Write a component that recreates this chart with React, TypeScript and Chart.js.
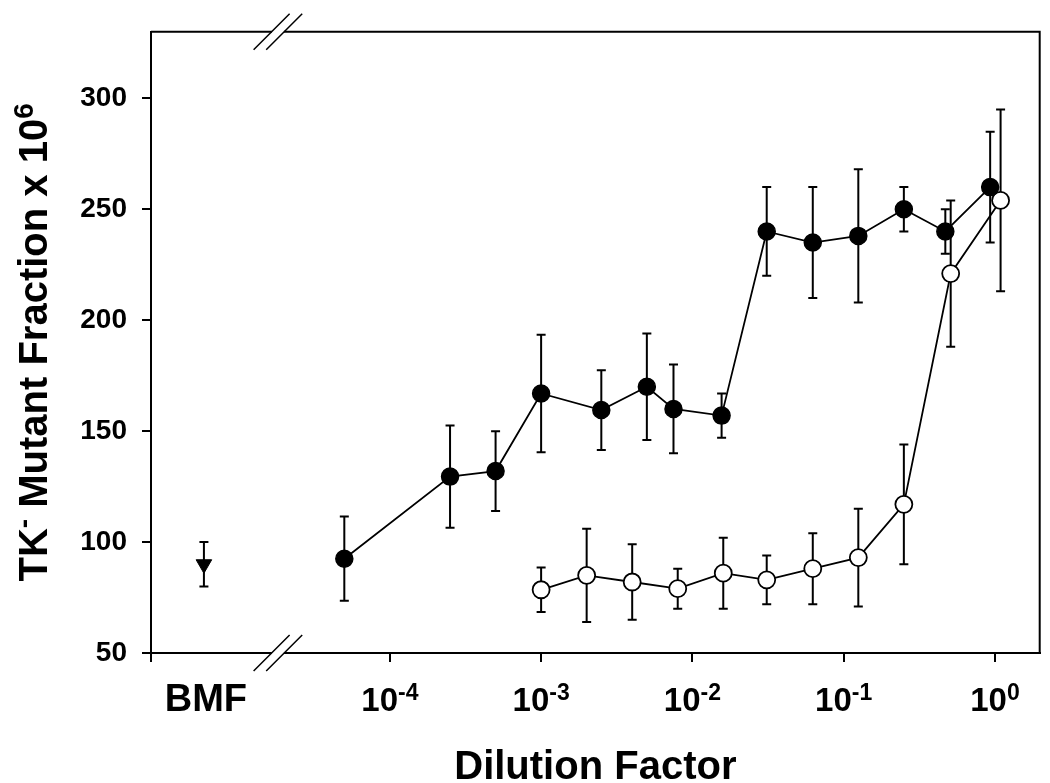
import React, { useEffect, useRef } from "react";
import { Chart, registerables } from "chart.js";

Chart.register(...registerables);

const FONT = '"Liberation Sans", Arial, Helvetica, sans-serif';

// Filled circles series
const filledX = [5e-5, 2.5e-4, 5e-4, 1e-3, 2.5e-3, 5e-3, 7.5e-3, 1.56e-2, 3.1e-2, 6.25e-2, 0.125, 0.25, 0.47, 0.93];
const filledY = [92.5, 129.5, 132, 167, 159.5, 170, 160, 157, 240, 235, 238, 250, 240, 260];
const filledErr = [19, 23, 18, 26.5, 18, 24, 20, 10, 20, 25, 30, 10, 10, 25];

// Open circles series
const openX = [1e-3, 2e-3, 4e-3, 8e-3, 1.6e-2, 3.1e-2, 6.25e-2, 0.125, 0.25, 0.51, 1.09];
const openY = [78.5, 85, 82, 79, 86, 83, 88, 93, 117, 221, 254];
const openErr = [10, 21, 17, 9, 16, 11, 16, 22, 27, 33, 41];

// BMF (background mutant fraction) point
const bmfX = [5.9e-6];
const bmfY = [90];
const bmfErr = [10];

const xTickValues = [1e-4, 1e-3, 1e-2, 1e-1, 1];
const xTickExponents = ["-4", "-3", "-2", "-1", "0"];
const xCategoryLabel = "BMF";
const yTickValues = [50, 100, 150, 200, 250, 300];

const X_MIN = Math.pow(10, -5.579);
const X_MAX = Math.pow(10, 0.296);
const Y_MIN = 50;
const Y_MAX = 330;
const BREAK_AT = Math.pow(10, -4.74);

const errorBarPlugin = {
  id: "errorBars",
  beforeDatasetsDraw(chart: any) {
    const ctx = chart.ctx;
    const xs = chart.scales.x;
    const ys = chart.scales.y;
    chart.data.datasets.forEach((ds: any) => {
      const errs = ds.errors;
      if (!errs) return;
      ctx.save();
      ctx.strokeStyle = "#000";
      ctx.lineWidth = 2;
      ds.data.forEach((p: any, j: number) => {
        const px = xs.getPixelForValue(p.x);
        const top = ys.getPixelForValue(p.y + errs[j]);
        const bot = ys.getPixelForValue(p.y - errs[j]);
        ctx.beginPath();
        ctx.moveTo(px, top);
        ctx.lineTo(px, bot);
        ctx.moveTo(px - 4.5, top);
        ctx.lineTo(px + 4.5, top);
        ctx.moveTo(px - 4.5, bot);
        ctx.lineTo(px + 4.5, bot);
        ctx.stroke();
      });
      ctx.restore();
    });
  },
};

const decorPlugin = {
  id: "decor",
  afterDraw(chart: any) {
    const ctx = chart.ctx;
    const area = chart.chartArea;
    const xs = chart.scales.x;
    ctx.save();
    // frame top and right
    ctx.strokeStyle = "#000";
    ctx.lineWidth = 2;
    ctx.beginPath();
    ctx.moveTo(area.left, area.top);
    ctx.lineTo(area.right, area.top);
    ctx.lineTo(area.right, area.bottom);
    ctx.stroke();

    // axis breaks
    const bx = xs.getPixelForValue(BREAK_AT);
    [area.top, area.bottom].forEach((y0: number) => {
      ctx.fillStyle = "#fff";
      ctx.fillRect(bx - 6, y0 - 2, 12, 4);
      ctx.strokeStyle = "#000";
      ctx.lineWidth = 1.5;
      ctx.beginPath();
      [-6.3, 6.3].forEach((o) => {
        ctx.moveTo(bx + o - 18, y0 + 18);
        ctx.lineTo(bx + o + 18, y0 - 18);
      });
      ctx.stroke();
    });

    // x tick labels with superscripts
    ctx.fillStyle = "#000";
    ctx.textBaseline = "alphabetic";
    ctx.textAlign = "left";
    const mainFont = `bold 33px ${FONT}`;
    const supFont = `bold 23px ${FONT}`;
    xTickValues.forEach((v, i) => {
      const px = xs.getPixelForValue(v);
      ctx.font = mainFont;
      const w1 = ctx.measureText("10").width;
      ctx.font = supFont;
      const w2 = ctx.measureText(xTickExponents[i]).width;
      const start = px - (w1 + w2) / 2;
      ctx.font = mainFont;
      ctx.fillText("10", start, 711);
      ctx.font = supFont;
      ctx.fillText(xTickExponents[i], start + w1, 700);
    });
    // BMF label
    ctx.font = `bold 38px ${FONT}`;
    ctx.textAlign = "center";
    ctx.fillText(xCategoryLabel, xs.getPixelForValue(bmfX[0]) + 2, 711);

    // x title
    ctx.font = `bold 40px ${FONT}`;
    ctx.fillText("Dilution Factor", (area.left + area.right) / 2, 779);

    // y title
    ctx.translate(47, (area.top + area.bottom) / 2);
    ctx.rotate(-Math.PI / 2);
    ctx.textAlign = "left";
    const parts: [string, boolean][] = [
      ["TK", false],
      ["-", true],
      [" Mutant Fraction x 10", false],
      ["6", true],
    ];
    const mf = `bold 40px ${FONT}`;
    const sf = `bold 28px ${FONT}`;
    let total = 0;
    parts.forEach(([t, sup]) => {
      ctx.font = sup ? sf : mf;
      total += ctx.measureText(t).width;
    });
    let cx = -total / 2;
    parts.forEach(([t, sup]) => {
      ctx.font = sup ? sf : mf;
      ctx.fillText(t, cx, sup ? -14 : 0);
      cx += ctx.measureText(t).width;
    });
    ctx.restore();
  },
};

export default function App() {
  const ref = useRef<HTMLCanvasElement | null>(null);
  useEffect(() => {
    if (!ref.current) return;
    const chart = new Chart(ref.current, {
      type: "scatter",
      data: {
        datasets: [
          {
            label: "filled",
            data: filledX.map((x, i) => ({ x, y: filledY[i] })),
            errors: filledErr,
            showLine: true,
            borderColor: "#000",
            borderWidth: 1.8,
            pointRadius: 8.5,
            pointHoverRadius: 8.5,
            pointBackgroundColor: "#000",
            pointBorderColor: "#000",
            pointBorderWidth: 1.5,
          } as any,
          {
            label: "open",
            data: openX.map((x, i) => ({ x, y: openY[i] })),
            errors: openErr,
            showLine: true,
            borderColor: "#000",
            borderWidth: 1.8,
            pointRadius: 8.5,
            pointHoverRadius: 8.5,
            pointBackgroundColor: "#fff",
            pointBorderColor: "#000",
            pointBorderWidth: 1.8,
          } as any,
          {
            label: "BMF",
            data: bmfX.map((x, i) => ({ x, y: bmfY[i] })),
            errors: bmfErr,
            showLine: false,
            pointStyle: "triangle",
            rotation: 180,
            pointRadius: 9,
            pointHoverRadius: 9,
            pointBackgroundColor: "#000",
            pointBorderColor: "#000",
            pointBorderWidth: 1,
          } as any,
        ],
      },
      options: {
        animation: false,
        responsive: false,
        devicePixelRatio: 1,
        layout: { padding: { top: 30, right: 9, left: 0, bottom: 0 } },
        plugins: {
          legend: { display: false },
          tooltip: { enabled: false },
          title: { display: false },
        },
        scales: {
          x: {
            type: "logarithmic",
            min: X_MIN,
            max: X_MAX,
            afterBuildTicks: (s: any) => {
              s.ticks = [X_MIN, ...xTickValues].map((v) => ({ value: v }));
            },
            afterFit: (s: any) => {
              s.height = 130;
            },
            ticks: { display: false },
            grid: {
              display: true,
              drawOnChartArea: false,
              drawTicks: true,
              tickLength: 9,
              lineWidth: 2,
              color: "#000",
            },
            border: { display: true, color: "#000", width: 2 },
          },
          y: {
            type: "linear",
            min: Y_MIN,
            max: Y_MAX,
            afterBuildTicks: (s: any) => {
              s.ticks = yTickValues.map((v) => ({ value: v }));
            },
            afterFit: (s: any) => {
              s.width = 151;
            },
            ticks: {
              color: "#000",
              padding: 15,
              font: { family: FONT, size: 28, weight: "bold" },
              callback: (v: any) => String(v),
            },
            grid: {
              display: true,
              drawOnChartArea: false,
              drawTicks: true,
              tickLength: 9,
              lineWidth: 2,
              color: "#000",
            },
            border: { display: true, color: "#000", width: 2 },
          },
        },
      } as any,
      plugins: [errorBarPlugin, decorPlugin],
    });
    return () => chart.destroy();
  }, []);
  return (
    <div style={{ position: "absolute", left: 0, top: 0, width: 1050, height: 783, background: "#fff" }}>
      <canvas ref={ref} width={1050} height={783} style={{ display: "block" }} />
    </div>
  );
}
